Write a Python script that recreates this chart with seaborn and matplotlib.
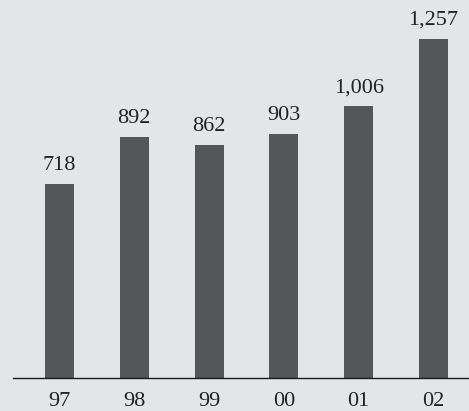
import matplotlib
matplotlib.use("Agg")
import matplotlib.pyplot as plt
import seaborn as sns
import pandas as pd

years = ["97", "98", "99", "00", "01", "02"]
values = [718, 892, 862, 903, 1006, 1257]
value_labels = ["718", "892", "862", "903", "1,006", "1,257"]

sns.set_theme(style="white")
plt.rcParams["font.family"] = ["Liberation Serif", "DejaVu Serif"]

bg = "#e3e6e7"
bar_color = "#55565a"
text_color = "#222222"

df = pd.DataFrame({"year": years, "value": values})

fig = plt.figure(figsize=(4.69, 4.11), dpi=100, facecolor=bg)
ax = fig.add_axes([13 / 469, 33 / 411, 1 - 13 / 469, 378 / 411])
ax.set_facecolor(bg)

sns.barplot(data=df, x="year", y="value", color=bar_color, width=0.39,
            saturation=1, linewidth=0, edgecolor=bar_color, ax=ax)

ax.set_xlim(-0.622, 5.475)
ax.set_ylim(0, 1400)

for i, (v, lab) in enumerate(zip(values, value_labels)):
    ax.annotate(lab, (i, v), xytext=(0, 6.5), textcoords="offset points",
                ha="center", va="bottom", fontsize=16, color=text_color)

for s in ["top", "right", "left"]:
    ax.spines[s].set_visible(False)
ax.spines["bottom"].set_color("#1a1a1a")
ax.spines["bottom"].set_linewidth(1.0)

ax.set_yticks([])
ax.set_xlabel("")
ax.set_ylabel("")
ax.tick_params(axis="x", length=0, pad=10, labelsize=16, colors=text_color)

fig.savefig("out.png", dpi=100, facecolor=bg)
